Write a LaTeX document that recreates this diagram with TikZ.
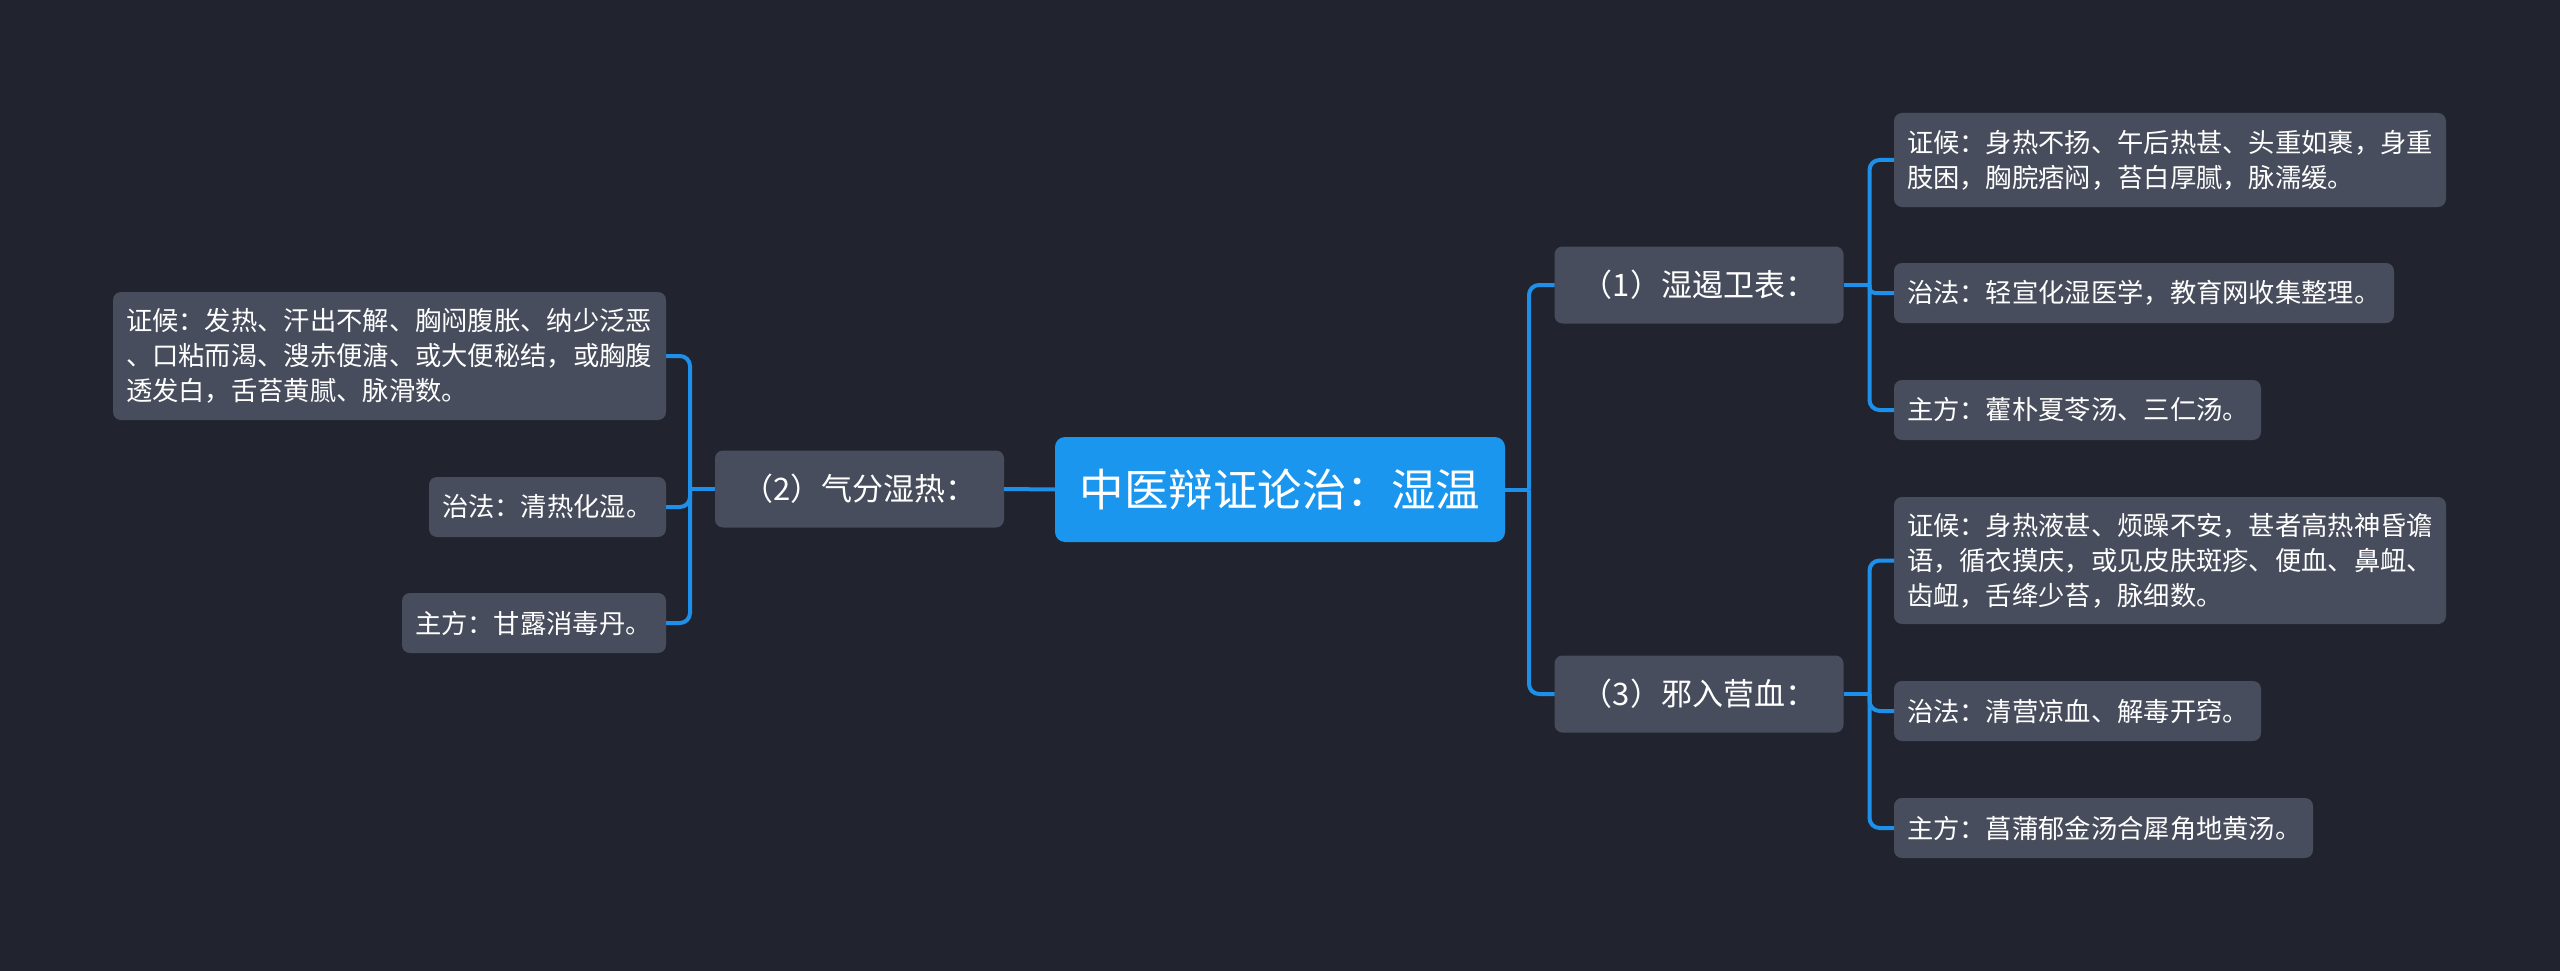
\documentclass[tikz,border=0pt]{standalone}
\usepackage{fontspec}
\newfontfamily\cjk{Noto Sans CJK SC}
\definecolor{bgc}{HTML}{21242F}
\definecolor{leafc}{HTML}{474D5C}
\definecolor{rootc}{HTML}{1A96EE}
\definecolor{linec}{HTML}{1E90EA}
\tikzset{
  base/.style={rounded corners=8pt, text=white, inner ysep=0pt, outer sep=0pt},
  rootbox/.style={base, fill=rootc, rounded corners=10pt, font=\cjk\fontsize{44.5}{50}\selectfont, minimum width=450pt, minimum height=105pt, inner xsep=0pt},
  midbox/.style={base, fill=leafc, font=\cjk\fontsize{31}{36}\selectfont, minimum width=289pt, minimum height=77pt, inner xsep=0pt},
  leafbox/.style={base, fill=leafc, font=\cjk\fontsize{26.3}{35}\selectfont, align=left, inner xsep=13pt},
  conn/.style={draw=linec, line width=4pt, rounded corners=10pt},
}
\begin{document}
\begin{tikzpicture}[x=1pt,y=-1pt]
\fill[bgc] (0,0) rectangle (2560,971);
\useasboundingbox (0,0) rectangle (2560,971);
% root and main branches
\node[rootbox] (root) at (1280,489.5) {中医辩证论治：湿温};
\node[midbox] (n2) at (859.5,489) {（2）气分湿热：};
\node[midbox] (n1) at (1699,285) {（1）湿遏卫表：};
\node[midbox] (n3) at (1699,694) {（3）邪入营血：};
% left leaves
\node[leafbox, anchor=east, text width=527pt, minimum height=128pt] (l1) at (666,356) {证候：发热、汗出不解、胸闷腹胀、纳少泛恶\\、口粘而渴、溲赤便溏、或大便秘结，或胸腹\\透发白，舌苔黄腻、脉滑数。};
\node[leafbox, anchor=east, text width=211pt, minimum height=60pt] (l2) at (666,507) {治法：清热化湿。};
\node[leafbox, anchor=east, text width=238pt, minimum height=60pt] (l3) at (666,623) {主方：甘露消毒丹。};
% right leaves, group 1
\node[leafbox, anchor=west, text width=526pt, minimum height=94pt] (r1) at (1894,160) {证候：身热不扬、午后热甚、头重如裹，身重\\肢困，胸脘痞闷，苔白厚腻，脉濡缓。};
\node[leafbox, anchor=west, text width=474pt, minimum height=60pt] (r2) at (1894,293) {治法：轻宣化湿医学，教育网收集整理。};
\node[leafbox, anchor=west, text width=341pt, minimum height=60pt] (r3) at (1894,410) {主方：藿朴夏苓汤、三仁汤。};
% right leaves, group 3
\node[leafbox, anchor=west, text width=526pt, minimum height=127pt] (r4) at (1894,560.5) {证候：身热液甚、烦躁不安，甚者高热神昏谵\\语，循衣摸庆，或见皮肤斑疹、便血、鼻衄、\\齿衄，舌绛少苔，脉细数。};
\node[leafbox, anchor=west, text width=341pt, minimum height=60pt] (r5) at (1894,711) {治法：清营凉血、解毒开窍。};
\node[leafbox, anchor=west, text width=393pt, minimum height=60pt] (r6) at (1894,828) {主方：菖蒲郁金汤合犀角地黄汤。};
% connectors
\draw[conn] (root.west) -- (n2.east);
\draw[conn] (root.east) -- ([xshift=24pt]root.east);
\draw[conn] ([xshift=24pt]root.east) |- (n1.west);
\draw[conn] ([xshift=24pt]root.east) |- (n3.west);
\draw[conn] (n2.west) -- ([xshift=-25pt]n2.west);
\draw[conn] ([xshift=-25pt]n2.west) |- (l1.east);
\draw[conn] ([xshift=-25pt]n2.west) |- (l2.east);
\draw[conn] ([xshift=-25pt]n2.west) |- (l3.east);
\draw[conn] (n1.east) -- ([xshift=26pt]n1.east);
\draw[conn] ([xshift=26pt]n1.east) |- (r1.west);
\draw[conn, rounded corners=5pt] ([xshift=26pt]n1.east) |- (r2.west);
\draw[conn] ([xshift=26pt]n1.east) |- (r3.west);
\draw[conn] (n3.east) -- ([xshift=26pt]n3.east);
\draw[conn] ([xshift=26pt]n3.east) |- (r4.west);
\draw[conn] ([xshift=26pt]n3.east) |- (r5.west);
\draw[conn] ([xshift=26pt]n3.east) |- (r6.west);
\end{tikzpicture}
\end{document}
